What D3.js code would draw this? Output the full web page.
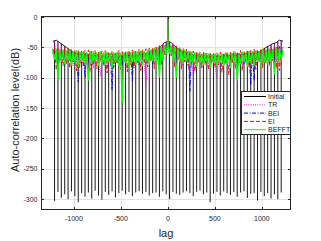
<!DOCTYPE html>
<html>
<head>
<meta charset="utf-8">
<script src="https://cdn.jsdelivr.net/npm/d3@7"></script>
<style>
  body { margin: 0; background: #fff; }
  svg { display: block; font-family: "Liberation Sans", Arial, sans-serif; }
</style>
</head>
<body>
<svg id="chart" width="321" height="241"></svg>
<script>
// every 18th lag is kept, -1224 .. 1224
const lags = d3.range(-1224, 1225, 18);
// main lobe at lag 0 (one lag wide)
const zeroLagDb = 0;

// Initial: sidelobe level on even grid points, deep nulls on odd ones
const initialPeakDb = [
  -40, -38, -42, -46, -50, -54, -58, -60, -62, -61,
  -63, -62, -64, -63, -65, -64, -66, -65, -64, -66,
  -65, -64, -63, -64, -62, -63, -61, -62, -60, -58,
  -56, -52, -48, -42, -40, -42, -48, -52, -56, -58,
  -60, -62, -63, -64, -65, -66, -65, -66, -65, -64,
  -65, -63, -64, -62, -63, -61, -62, -60, -61, -59,
  -60, -57, -54, -50, -47, -44, -42, -38, -40
];
const initialNullDb = [
  -303, -288, -298, -292, -300, -287, -295, -305, -290, -296,
  -289, -299, -286, -294, -301, -288, -293, -287, -297, -290,
  -286, -292, -288, -295, -289, -287, -291, -288, -294, -290,
  -289, -296, -287, -292, -300, -288, -291, -293, -289, -287,
  -290, -295, -288, -286, -292, -289, -305, -291, -288, -294,
  -287, -290, -293, -288, -296, -289, -287, -298, -291, -290,
  -302, -288, -295, -290, -299, -292, -300, -289
];

const trDb = [
  -42, -40, -70, -45, -75, -50, -72, -55, -78, -57,
  -73, -58, -80, -59, -74, -60, -82, -59, -75, -61,
  -79, -60, -73, -61, -84, -62, -76, -61, -98, -62,
  -77, -61, -81, -63, -74, -62, -83, -63, -76, -62,
  -80, -61, -75, -62, -85, -61, -73, -60, -79, -61,
  -76, -59, -82, -58, -74, -115, -78, -56, -72, -53,
  -80, -50, -70, -47, -76, -43, -60, -40, -40, -40,
  -62, -43, -77, -47, -71, -51, -80, -55, -73, -57,
  -78, -58, -74, -95, -81, -60, -75, -61, -83, -62,
  -76, -63, -80, -64, -74, -63, -84, -100, -77, -64,
  -81, -63, -75, -62, -86, -63, -76, -62, -82, -61,
  -74, -60, -79, -61, -76, -59, -83, -58, -73, -57,
  -80, -56, -75, -55, -78, -53, -72, -50, -77, -47,
  -70, -44, -80, -42, -80, -40, -38
];

const beiDb = [
  -52, -70, -54, -78, -55, -72, -56, -80, -57, -74,
  -56, -77, -58, -73, -57, -107, -58, -75, -57, -100,
  -59, -74, -58, -79, -59, -72, -60, -78, -59, -74,
  -60, -80, -59, -73, -60, -120, -59, -76, -60, -72,
  -59, -79, -60, -74, -58, -77, -59, -105, -57, -73,
  -58, -79, -56, -72, -57, -76, -55, -71, -54, -78,
  -52, -70, -51, -74, -49, -68, -47, -62, -47, -61,
  -48, -69, -50, -75, -52, -71, -54, -78, -55, -73,
  -57, -122, -58, -74, -59, -79, -60, -72, -61, -77,
  -60, -74, -61, -80, -62, -73, -61, -78, -62, -72,
  -61, -79, -60, -74, -61, -77, -60, -73, -59, -80,
  -60, -72, -58, -78, -59, -74, -57, -112, -58, -105,
  -56, -73, -57, -78, -55, -71, -54, -76, -53, -70,
  -52, -74, -50, -69, -48, -66, -50
];

const eiDb = [
  -60, -50, -87, -52, -72, -53, -80, -51, -76, -54,
  -84, -53, -74, -55, -88, -54, -76, -56, -82, -55,
  -73, -54, -90, -56, -78, -55, -85, -57, -74, -56,
  -80, -55, -92, -57, -75, -56, -83, -58, -77, -55,
  -86, -57, -74, -56, -90, -55, -78, -54, -84, -56,
  -75, -53, -88, -54, -76, -52, -82, -51, -72, -50,
  -85, -49, -70, -47, -80, -46, -62, -44, -44, -44,
  -64, -46, -83, -48, -71, -50, -86, -52, -74, -53,
  -81, -55, -77, -56, -89, -57, -75, -58, -84, -57,
  -78, -59, -87, -58, -76, -60, -83, -59, -79, -58,
  -91, -59, -77, -57, -95, -58, -75, -56, -85, -57,
  -78, -55, -88, -56, -74, -54, -82, -55, -77, -53,
  -86, -54, -73, -52, -84, -53, -76, -51, -80, -50,
  -72, -52, -85, -49, -88, -50, -58
];

const befftDb = [
  -55, -70, -52, -105, -54, -74, -53, -78, -55, -72,
  -54, -80, -56, -75, -55, -82, -57, -74, -56, -78,
  -58, -105, -56, -77, -57, -73, -58, -81, -56, -76,
  -58, -79, -57, -74, -59, -83, -58, -75, -57, -80,
  -59, -142, -58, -76, -57, -82, -58, -74, -56, -79,
  -57, -75, -55, -81, -56, -74, -54, -78, -53, -73,
  -51, -76, -50, -100, -48, -70, -46, -62, -45, -60,
  -47, -71, -49, -100, -51, -74, -53, -77, -54, -73,
  -56, -80, -57, -75, -58, -82, -59, -76, -60, -79,
  -59, -74, -60, -83, -61, -76, -60, -80, -61, -75,
  -60, -81, -59, -77, -60, -84, -59, -76, -58, -105,
  -59, -78, -57, -74, -58, -82, -56, -76, -57, -79,
  -55, -74, -56, -81, -54, -75, -53, -78, -52, -73,
  -53, -95, -51, -74, -52, -70, -54
];

const xTicks = [-1000, -500, 0, 500, 1000];
const yTicks = [0, -50, -100, -150, -200, -250, -300];

const svg = d3.select('#chart');
const axisColor = '#262626';

const x = d3.scaleLinear().domain([-1345, 1305]).range([41.5, 290.5]);
const y = d3.scaleLinear().domain([-317, 1]).range([209.5, 16.5]);

// points of a series, with the one-lag main lobe put in at lag 0
function withMainLobe(lagList, values) {
  const pts = [];
  lagList.forEach((l, i) => {
    if (l === 0) pts.push([-1, values[i]], [0, zeroLagDb], [1, values[i]]);
    else pts.push([l, values[i]]);
  });
  return pts;
}

// grid
const grid = svg.append('g').attr('stroke', '#e2e2e2').attr('stroke-width', 1);
grid.selectAll('.gx').data(xTicks).enter().append('line')
  .attr('x1', d => Math.round(x(d)) + 0.5).attr('x2', d => Math.round(x(d)) + 0.5)
  .attr('y1', y.range()[1]).attr('y2', y.range()[0]);
grid.selectAll('.gy').data(yTicks).enter().append('line')
  .attr('y1', d => Math.round(y(d)) + 0.5).attr('y2', d => Math.round(y(d)) + 0.5)
  .attr('x1', x.range()[0]).attr('x2', x.range()[1]);

svg.append('clipPath').attr('id', 'plot')
  .append('rect').attr('x', 41.5).attr('y', 16.5).attr('width', 249).attr('height', 193);

const plot = svg.append('g').attr('clip-path', 'url(#plot)');
const line = d3.line().x(d => x(d[0])).y(d => y(d[1]));

// Initial: sidelobe line plus one-lag-wide nulls drawn as stems
const peakLags = lags.filter((l, i) => i % 2 === 0);
plot.append('path').datum(withMainLobe(peakLags, initialPeakDb))
  .attr('d', line).attr('fill', 'none')
  .attr('stroke', '#000').attr('stroke-width', 0.9);
plot.selectAll('.null').data(initialNullDb).enter().append('line')
  .attr('x1', (d, k) => x(lags[2 * k + 1])).attr('x2', (d, k) => x(lags[2 * k + 1]))
  .attr('y1', d => y(d))
  .attr('y2', (d, k) => (y(initialPeakDb[k]) + y(initialPeakDb[k + 1])) / 2)
  .attr('stroke', '#000').attr('stroke-width', 0.9);

const series = [
  { name: 'TR', values: trDb, color: '#ff00ff', dash: '1,1.2', width: 0.9 },
  { name: 'BEI', values: beiDb, color: '#0000ff', dash: '4,1.5,1,1.5', width: 0.9 },
  { name: 'EI', values: eiDb, color: '#ff0000', dash: '4,2', width: 0.9 },
  { name: 'BEFFT', values: befftDb, color: '#00ff00', dash: null, width: 1.3 }
];

series.forEach(s => {
  plot.append('path').datum(withMainLobe(lags, s.values))
    .attr('d', line).attr('fill', 'none')
    .attr('stroke', s.color).attr('stroke-width', s.width)
    .attr('stroke-dasharray', s.dash);
});

// box and inward ticks on all four sides
svg.append('rect').attr('x', 41.5).attr('y', 16.5).attr('width', 249).attr('height', 193)
  .attr('fill', 'none').attr('stroke', axisColor).attr('stroke-width', 1);

const ticks = svg.append('g').attr('stroke', axisColor).attr('stroke-width', 1);
xTicks.forEach(t => {
  const px = Math.round(x(t)) + 0.5;
  ticks.append('line').attr('x1', px).attr('x2', px).attr('y1', 209.5).attr('y2', 207);
  ticks.append('line').attr('x1', px).attr('x2', px).attr('y1', 16.5).attr('y2', 19);
});
yTicks.forEach(t => {
  const py = Math.round(y(t)) + 0.5;
  ticks.append('line').attr('y1', py).attr('y2', py).attr('x1', 41.5).attr('x2', 44);
  ticks.append('line').attr('y1', py).attr('y2', py).attr('x1', 290.5).attr('x2', 288);
});

svg.append('g').selectAll('text').data(xTicks).enter().append('text')
  .attr('x', d => x(d)).attr('y', 221)
  .attr('text-anchor', 'middle').attr('font-size', 7).attr('fill', axisColor)
  .text(d => d);
svg.append('g').selectAll('text').data(yTicks).enter().append('text')
  .attr('x', 37.5).attr('y', d => y(d) + 2.5)
  .attr('text-anchor', 'end').attr('font-size', 7).attr('fill', axisColor)
  .text(d => d);

svg.append('text').attr('x', 166).attr('y', 236.5)
  .attr('text-anchor', 'middle').attr('font-size', 11).attr('fill', axisColor)
  .text('lag');
svg.append('text')
  .attr('transform', 'translate(19,110) rotate(-90)')
  .attr('text-anchor', 'middle').attr('font-size', 11).attr('fill', axisColor)
  .text('Auto-correlation level(dB)');

// legend
const legendItems = [{ name: 'Initial', color: '#000', dash: null }].concat(series);
const legend = svg.append('g');
legend.append('rect').attr('x', 241.5).attr('y', 91.5).attr('width', 49).attr('height', 43)
  .attr('fill', '#fff').attr('stroke', axisColor).attr('stroke-width', 1);
legendItems.forEach((d, i) => {
  const ly = 96.5 + i * 8.3;
  legend.append('line').attr('x1', 244).attr('x2', 266).attr('y1', ly).attr('y2', ly)
    .attr('stroke', d.color).attr('stroke-width', 1).attr('stroke-dasharray', d.dash);
  legend.append('text').attr('x', 268).attr('y', ly + 2.4)
    .attr('font-size', 7).attr('fill', axisColor).text(d.name);
});
</script>
</body>
</html>
